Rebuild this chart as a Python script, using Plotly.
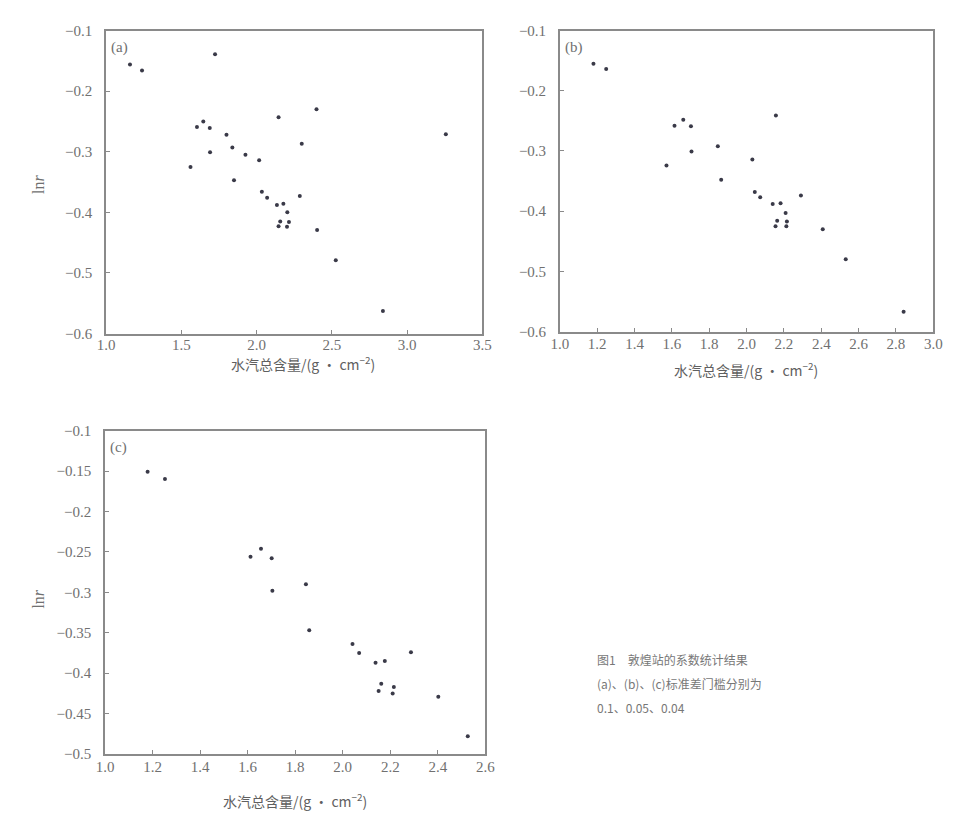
import plotly.graph_objects as go

# ---- data ----
x_a = [1.159, 1.239, 1.724, 2.398, 2.146, 1.646, 1.604, 1.689, 1.800, 3.257,
       2.300, 1.839, 1.691, 1.926, 2.017, 1.561, 1.850, 2.035, 2.070, 2.287,
       2.135, 2.178, 2.204, 2.157, 2.146, 2.215, 2.202, 2.402, 2.526, 2.839]
y_a = [-0.156, -0.166, -0.139, -0.230, -0.243, -0.250, -0.259, -0.261, -0.272, -0.271,
       -0.287, -0.293, -0.301, -0.305, -0.314, -0.325, -0.347, -0.366, -0.376, -0.373,
       -0.388, -0.386, -0.400, -0.415, -0.423, -0.416, -0.424, -0.429, -0.479, -0.563]

x_b = [1.180, 1.248, 2.157, 1.661, 1.614, 1.702, 1.846, 1.705, 2.031, 1.571,
       1.864, 2.044, 2.073, 2.291, 2.140, 2.182, 2.209, 2.164, 2.155, 2.216,
       2.213, 2.408, 2.531, 2.841]
y_b = [-0.155, -0.164, -0.241, -0.248, -0.258, -0.259, -0.292, -0.301, -0.314, -0.324,
       -0.348, -0.368, -0.377, -0.374, -0.388, -0.387, -0.403, -0.416, -0.425, -0.417,
       -0.425, -0.430, -0.480, -0.567]

x_c = [1.179, 1.252, 1.656, 1.612, 1.701, 1.845, 1.704, 1.859, 2.041, 2.069,
       2.287, 2.138, 2.177, 2.162, 2.151, 2.215, 2.210, 2.402, 2.526]
y_c = [-0.151, -0.160, -0.246, -0.256, -0.258, -0.290, -0.298, -0.347, -0.364, -0.375,
       -0.374, -0.387, -0.385, -0.413, -0.422, -0.417, -0.425, -0.429, -0.478]

xt_a = [1.0, 1.5, 2.0, 2.5, 3.0, 3.5]
xl_a = ["1.0", "1.5", "2.0", "2.5", "3.0", "3.5"]
xt_b = [1.0, 1.2, 1.4, 1.6, 1.8, 2.0, 2.2, 2.4, 2.6, 2.8, 3.0]
xl_b = ["1.0", "1.2", "1.4", "1.6", "1.8", "2.0", "2.2", "2.4", "2.6", "2.8", "3.0"]
xt_c = [1.0, 1.2, 1.4, 1.6, 1.8, 2.0, 2.2, 2.4, 2.6]
xl_c = ["1.0", "1.2", "1.4", "1.6", "1.8", "2.0", "2.2", "2.4", "2.6"]
yt_ab = [-0.1, -0.2, -0.3, -0.4, -0.5, -0.6]
yl_ab = ["−0.1", "−0.2", "−0.3", "−0.4", "−0.5", "−0.6"]
yt_c = [-0.1, -0.15, -0.2, -0.25, -0.3, -0.35, -0.4, -0.45, -0.5]
yl_c = ["−0.1", "−0.15", "−0.2", "−0.25", "−0.3", "−0.35", "−0.4", "−0.45", "−0.5"]

panel_labels = ["(a)", "(b)", "(c)"]
x_title = "水汽总含量/(g · cm<sup>−2</sup>)"
y_title = "ln<i>r</i>"
caption = ["图1　敦煌站的系数统计结果", "(a)、(b)、(c)标准差门槛分别为", "0.1、0.05、0.04"]

W, H = 958, 818
FONT = "Times New Roman, Liberation Serif, DejaVu Serif, serif"
CJK = "Noto Sans CJK SC"
GRAY = "#8a8a8a"
TXT = "#707070"


def fx(px):
    return px / W


def fy(py):
    return 1 - py / H


fig = go.Figure()
mk = dict(size=4, color="#3a3a48")
fig.add_trace(go.Scatter(x=x_a, y=y_a, mode="markers", marker=mk, xaxis="x", yaxis="y", showlegend=False))
fig.add_trace(go.Scatter(x=x_b, y=y_b, mode="markers", marker=mk, xaxis="x2", yaxis="y2", showlegend=False))
fig.add_trace(go.Scatter(x=x_c, y=y_c, mode="markers", marker=mk, xaxis="x3", yaxis="y3", showlegend=False))

common = dict(showline=True, linecolor=GRAY, linewidth=1.5, mirror=True, ticks="inside",
              ticklen=4, tickcolor=GRAY, showgrid=False, zeroline=False,
              tickfont=dict(family=FONT, size=15, color=TXT), fixedrange=True)

fig.update_layout(
    width=W, height=H, margin=dict(l=0, r=0, t=0, b=0),
    paper_bgcolor="white", plot_bgcolor="white",
    xaxis=dict(domain=[fx(99), fx(483)], range=[1.0, 3.5], tickvals=xt_a, ticktext=xl_a, anchor="y",
               ticklabelstandoff=-3, **common),
    yaxis=dict(domain=[fy(332), fy(23)], range=[-0.6, -0.1], tickvals=yt_ab, ticktext=yl_ab, anchor="x",
               ticklabelstandoff=9, **common),
    xaxis2=dict(domain=[fx(562), fx(943)], range=[1.0, 3.0], tickvals=xt_b, ticktext=xl_b, anchor="y2",
                ticklabelstandoff=-2, **common),
    yaxis2=dict(domain=[fy(330), fy(23)], range=[-0.6, -0.1], tickvals=yt_ab, ticktext=yl_ab, anchor="x2",
                ticklabelstandoff=9, **common),
    xaxis3=dict(domain=[fx(98), fx(486)], range=[1.0, 2.6], tickvals=xt_c, ticktext=xl_c, anchor="y3",
                ticklabelstandoff=-2, **common),
    yaxis3=dict(domain=[fy(761), fy(431)], range=[-0.5, -0.1], tickvals=yt_c, ticktext=yl_c, anchor="x3",
                ticklabelstandoff=9, **common),
)

ann = []
tf = dict(family=FONT, size=15, color=TXT)
# panel labels
for px, py, lab in [(102, 40, panel_labels[0]), (565, 40, panel_labels[1]), (101, 448, panel_labels[2])]:
    ann.append(dict(x=fx(px), y=fy(py), xref="paper", yref="paper", text=lab, showarrow=False,
                    xanchor="left", yanchor="middle", font=tf))
# x titles
for px, py in [(300, 363), (752, 369), (292, 808)]:
    ann.append(dict(x=fx(px), y=fy(py), xref="paper", yref="paper", text=x_title, showarrow=False,
                    xanchor="center", yanchor="middle", font=dict(family=CJK, size=14, color="#606060")))
# y titles
for px, py in [(30, 180), (30, 603)]:
    ann.append(dict(x=fx(px), y=fy(py), xref="paper", yref="paper", text=y_title, showarrow=False,
                    textangle=-90, xanchor="center", yanchor="middle", font=dict(family=FONT, size=16, color=TXT)))
# caption
for i, line in enumerate(caption):
    ann.append(dict(x=fx(598), y=fy(664 + 24.5 * i), xref="paper", yref="paper", text=line, showarrow=False,
                    xanchor="left", yanchor="middle",
                    font=dict(family=CJK, size=12, color="#777")))
fig.update_layout(annotations=ann)

fig.write_html("out.html")
